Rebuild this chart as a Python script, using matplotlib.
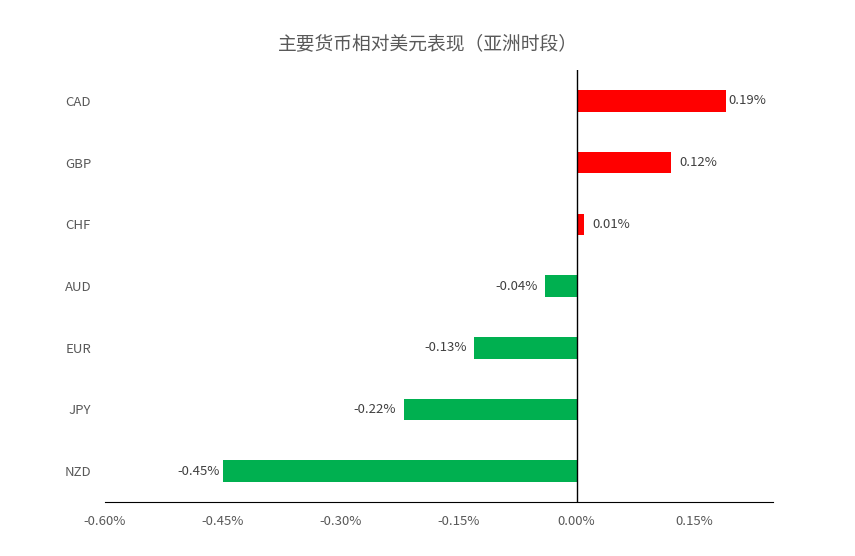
import matplotlib.pyplot as plt
from matplotlib.ticker import FuncFormatter

plt.rcParams['font.family'] = ['Noto Sans CJK SC', 'DejaVu Sans']

currencies = ['CAD', 'GBP', 'CHF', 'AUD', 'EUR', 'JPY', 'NZD']
changes = [0.19, 0.12, 0.01, -0.04, -0.13, -0.22, -0.45]
x_ticks = [-0.60, -0.45, -0.30, -0.15, 0.00, 0.15]

grey = '#595959'
colors = ['#FF0000' if v > 0 else '#00B050' for v in changes]

fig = plt.figure(figsize=(8.55, 5.56), dpi=100)
ax = fig.add_axes([0.1228, 0.0971, 0.9041 - 0.1228, 0.874 - 0.0971])

ypos = list(range(len(currencies)))
bars = ax.barh(ypos, changes, height=0.35, color=colors, zorder=2)
ax.set_ylim(len(currencies) - 0.5, -0.5)
ax.set_xlim(-0.60, 0.25)

ax.set_yticks(ypos)
ax.set_yticklabels(currencies)
ax.set_xticks(x_ticks)
ax.xaxis.set_major_formatter(FuncFormatter(lambda v, p: f'{v:.2f}%'))
ax.tick_params(axis='both', length=0, colors=grey, labelsize=9.5)
ax.tick_params(axis='y', pad=10)
ax.tick_params(axis='x', pad=9)

for s in ['top', 'right', 'left']:
    ax.spines[s].set_visible(False)
ax.spines['bottom'].set_color('black')
ax.axvline(0, color='black', linewidth=1, zorder=3)

for b, v in zip(bars, changes):
    y = b.get_y() + b.get_height() / 2
    if v >= 0:
        off = 1.5 if v > 0.17 else 6
        ax.annotate(f'{v:.2f}%', (v, y), xytext=(off, 0), textcoords='offset points',
                    ha='left', va='center', fontsize=9.5, color='#404040')
    else:
        off = -2 if v < -0.4 else -5.5
        ax.annotate(f'{v:.2f}%', (v, y), xytext=(off, 0), textcoords='offset points',
                    ha='right', va='center', fontsize=9.5, color='#404040')

fig.suptitle('主要货币相对美元表现（亚洲时段）', y=0.94, fontsize=13.5, color=grey)

fig.savefig('out.png', dpi=100)
